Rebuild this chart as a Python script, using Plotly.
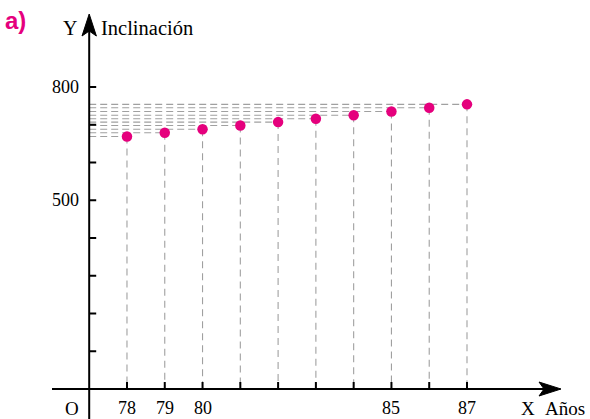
import plotly.graph_objects as go

# ---- data ----
years = [78, 79, 80, 81, 82, 83, 84, 85, 86, 87]
inclination = [669, 679, 688, 698, 707, 716, 725, 735, 745, 754]
x_tick_vals = [78, 79, 80, 81, 82, 83, 84, 85, 86, 87]
x_tick_labels = ["78", "79", "80", "", "", "", "", "85", "", "87"]
y_tick_vals = [100, 200, 300, 400, 500, 600, 700, 800]
y_tick_labels = ["", "", "", "", "500", "", "", "800"]

W, H = 590, 419
# pixel <-> data conversion (origin of axes: year 77, value 0)
X0_PX, X_SCALE = 89.2, 37.78
Y0_PX, Y_SCALE = 389.0, 0.3775
X_ORIGIN = 77


def dx(px):
    return X_ORIGIN + (px - X0_PX) / X_SCALE


def dy(py):
    return (Y0_PX - py) / Y_SCALE


fig = go.Figure()

# dashed guide lines (horizontal to y-axis, vertical to x-axis)
hx, hy, vx, vy = [], [], [], []
for xv, yv in zip(years, inclination):
    hx += [X_ORIGIN, xv, None]
    hy += [yv, yv, None]
    vx += [xv, xv, None]
    vy += [yv, 0, None]
fig.add_trace(go.Scatter(x=hx, y=hy, mode="lines",
                         line=dict(color="#a0a0a0", width=1.1, dash="7px,4px"),
                         hoverinfo="skip", showlegend=False))
fig.add_trace(go.Scatter(x=vx, y=vy, mode="lines",
                         line=dict(color="#a0a0a0", width=1.1, dash="7px,5px"),
                         hoverinfo="skip", showlegend=False))

# ticks
tx, ty = [], []
for v in x_tick_vals:
    tx += [v, v, None]
    ty += [0, dy(Y0_PX - 7), None]
fig.add_trace(go.Scatter(x=tx, y=ty, mode="lines", line=dict(color="black", width=2),
                         hoverinfo="skip", showlegend=False))
tx, ty = [], []
for v in y_tick_vals:
    tx += [X_ORIGIN, dx(X0_PX + 7), None]
    ty += [v, v, None]
fig.add_trace(go.Scatter(x=tx, y=ty, mode="lines", line=dict(color="black", width=2),
                         hoverinfo="skip", showlegend=False))

# points
fig.add_trace(go.Scatter(x=years, y=inclination, mode="markers",
                         marker=dict(color="#E5007D", size=10.5, line=dict(width=0)),
                         showlegend=False))

shapes = []
# axes lines
shapes.append(dict(type="line", x0=dx(52), x1=dx(548), y0=0, y1=0,
                   line=dict(color="black", width=2)))
shapes.append(dict(type="line", x0=X_ORIGIN, x1=X_ORIGIN, y0=dy(419), y1=dy(28),
                   line=dict(color="black", width=2)))


def path(pts):
    return "M " + " L ".join(f"{dx(a)},{dy(b)}" for a, b in pts) + " Z"


# arrow heads
shapes.append(dict(type="path", path=path([(561, 389), (539, 382), (544, 389), (539, 396)]),
                   fillcolor="black", line=dict(color="black", width=1)))
shapes.append(dict(type="path", path=path([(89.2, 14), (82, 36), (89.2, 31), (96.4, 36)]),
                   fillcolor="black", line=dict(color="black", width=1)))

annotations = []
serif = "Liberation Serif"
for v, t in zip(x_tick_vals, x_tick_labels):
    if t:
        annotations.append(dict(x=v, y=dy(408), text=t, showarrow=False,
                                font=dict(family=serif, size=18, color="black"),
                                xanchor="center", yanchor="middle"))
for v, t in zip(y_tick_vals, y_tick_labels):
    if t:
        annotations.append(dict(x=dx(81), y=v, text=t, showarrow=False,
                                font=dict(family=serif, size=18, color="black"),
                                xanchor="right", yanchor="middle"))
annotations += [
    dict(x=dx(72), y=dy(408), text="O", showarrow=False,
         font=dict(family=serif, size=19, color="black"), xanchor="center", yanchor="middle"),
    dict(x=dx(519), y=dy(408), text="X", showarrow=False,
         font=dict(family=serif, size=19, color="black"), xanchor="left", yanchor="middle"),
    dict(x=dx(543), y=dy(408), text="Años", showarrow=False,
         font=dict(family=serif, size=19, color="black"), xanchor="left", yanchor="middle"),
    dict(x=dx(79), y=dy(28), text="Y", showarrow=False,
         font=dict(family=serif, size=20, color="black"), xanchor="right", yanchor="middle"),
    dict(x=dx(99), y=dy(28), text="Inclinación", showarrow=False,
         font=dict(family=serif, size=20.5, color="black"), xanchor="left", yanchor="middle"),
    dict(x=dx(3), y=dy(20), text="<b>a)</b>", showarrow=False,
         font=dict(family="Liberation Sans", size=24, color="#E5007D"),
         xanchor="left", yanchor="middle"),
]

fig.update_layout(
    width=W, height=H,
    margin=dict(l=0, r=0, t=0, b=0),
    paper_bgcolor="white", plot_bgcolor="white",
    xaxis=dict(range=[dx(0), dx(W)], visible=False, fixedrange=True),
    yaxis=dict(range=[dy(H), dy(0)], visible=False, fixedrange=True),
    shapes=shapes, annotations=annotations,
)

fig.write_html("out.html")
